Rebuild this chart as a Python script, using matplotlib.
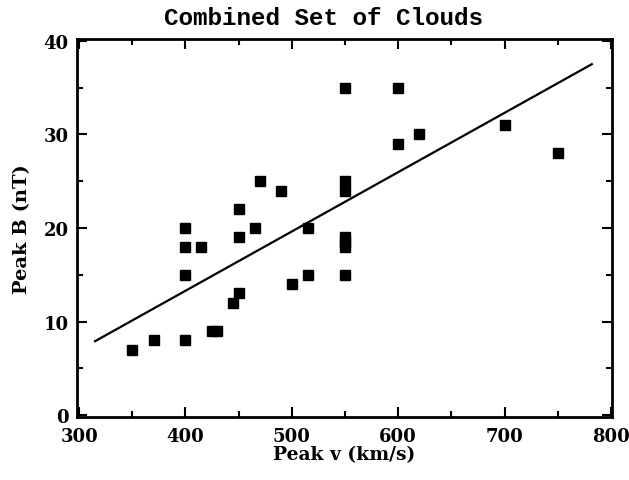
import numpy as np
import matplotlib
matplotlib.use("Agg")
import matplotlib.pyplot as plt
from matplotlib.ticker import MultipleLocator

# peak speed (km/s) and peak field (nT)
peak_v = [350, 370, 400, 400, 400, 400, 415, 425, 430, 445, 450, 450, 450,
          465, 470, 490, 500, 515, 515, 550, 550, 550, 550, 550, 550, 550,
          600, 600, 620, 700, 750]
peak_b = [7, 8, 8, 15, 18, 20, 18, 9, 9, 12, 13, 19, 22,
          20, 25, 24, 14, 15, 20, 15, 18, 18.5, 19, 24, 25, 35,
          35, 29, 30, 31, 28]

# fitted line end points
fit_v = [315, 782]
fit_b = [7.9, 37.5]

title = "Combined Set of Clouds"
xlabel = "Peak v (km/s)"
ylabel = "Peak B (nT)"

fig = plt.figure(figsize=(6.29, 4.81), dpi=100)
ax = fig.add_axes([0.1224, 0.131, 0.8506, 0.786])

ax.plot(peak_v, peak_b, linestyle="none", marker="s", markersize=7.8,
        color="black")
ax.plot(fit_v, fit_b, color="black", linewidth=1.6)

ax.set_xlim(298, 801)
ax.set_ylim(-0.2, 40.2)
ax.xaxis.set_major_locator(MultipleLocator(100))
ax.xaxis.set_minor_locator(MultipleLocator(50))
ax.yaxis.set_major_locator(MultipleLocator(10))
ax.yaxis.set_minor_locator(MultipleLocator(5))

ax.tick_params(which="both", direction="in", top=True, right=True,
               width=1.5, labelsize=13)
ax.tick_params(axis="x", pad=7)
ax.tick_params(axis="y", pad=6)
ax.tick_params(which="major", length=7)
ax.tick_params(which="minor", length=4)
for lab in ax.get_xticklabels() + ax.get_yticklabels():
    lab.set_family("DejaVu Serif")
    lab.set_fontweight("bold")

for s in ax.spines.values():
    s.set_linewidth(2.0)

ax.set_xlabel(xlabel, family="DejaVu Serif", fontweight="bold", fontsize=13.5,
              labelpad=0)
ax.set_ylabel(ylabel, family="DejaVu Serif", fontweight="bold", fontsize=14,
              labelpad=9)
fig.text(0.514, 0.985, title, family="Liberation Mono", fontweight="bold",
         fontsize=17.5, ha="center", va="top")

fig.savefig("out.png", dpi=100)
